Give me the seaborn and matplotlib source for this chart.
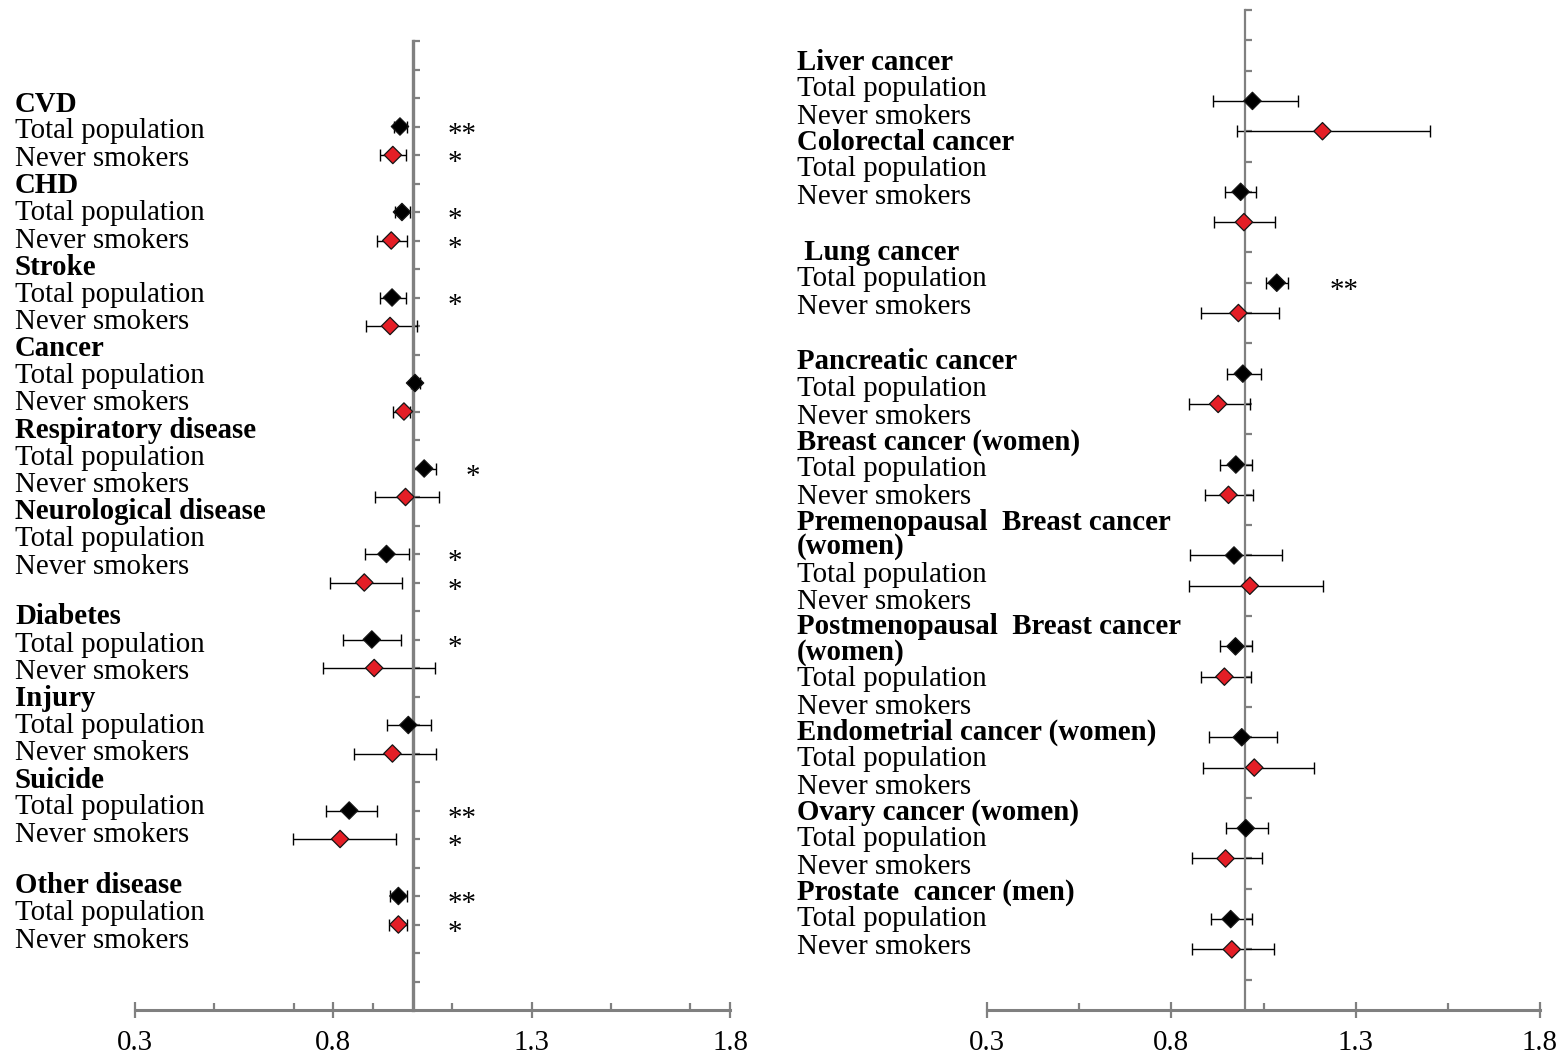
import matplotlib
matplotlib.use("Agg")
import matplotlib.pyplot as plt
import seaborn as sns
import pandas as pd

# ====================================
# data (hazard ratios)
# ====================================
LEFT_CATS = ["CVD", "CHD", "Stroke", "Cancer", "Respiratory disease",
             "Neurological disease", "Diabetes", "Injury", "Suicide",
             "Other disease"]
LEFT_TOTAL = [0.968, 0.973, 0.948, 1.006, 1.029, 0.934, 0.897, 0.989, 0.840, 0.964]
LEFT_TOTAL_LO = [0.953, 0.955, 0.918, 0.995, 1.001, 0.880, 0.825, 0.936, 0.781, 0.943]
LEFT_TOTAL_HI = [0.986, 0.993, 0.983, 1.018, 1.059, 0.991, 0.971, 1.046, 0.910, 0.986]
LEFT_NEVER = [0.950, 0.946, 0.943, 0.978, 0.982, 0.878, 0.903, 0.949, 0.817, 0.964]
LEFT_NEVER_LO = [0.918, 0.910, 0.882, 0.951, 0.905, 0.792, 0.773, 0.852, 0.699, 0.941]
LEFT_NEVER_HI = [0.983, 0.986, 1.011, 0.993, 1.066, 0.973, 1.056, 1.059, 0.958, 0.986]
LEFT_STARS_TOTAL = ["**", "*", "*", "", "*", "*", "*", "", "**", "**"]
LEFT_STARS_NEVER = ["*", "*", "", "", "", "*", "", "", "*", "*"]

RIGHT_CATS = ["Liver cancer", "Colorectal cancer", " Lung cancer",
              "Pancreatic cancer", "Breast cancer (women)",
              "Premenopausal  Breast cancer\n(women)",
              "Postmenopausal  Breast cancer\n(women)",
              "Endometrial cancer (women)", "Ovary cancer (women)",
              "Prostate  cancer (men)"]
RIGHT_TOTAL = [1.020, 0.988, 1.086, 0.994, 0.975, 0.970, 0.974, 0.991, 1.002, 0.961]
RIGHT_TOTAL_LO = [0.912, 0.946, 1.056, 0.950, 0.932, 0.851, 0.932, 0.903, 0.947, 0.907]
RIGHT_TOTAL_HI = [1.143, 1.030, 1.116, 1.042, 1.018, 1.099, 1.018, 1.087, 1.063, 1.020]
RIGHT_NEVER = [1.210, 0.997, 0.982, 0.927, 0.955, 1.013, 0.944, 1.025, 0.947, 0.964]
RIGHT_NEVER_LO = [0.977, 0.917, 0.880, 0.848, 0.891, 0.848, 0.880, 0.885, 0.855, 0.855]
RIGHT_NEVER_HI = [1.502, 1.081, 1.093, 1.013, 1.021, 1.212, 1.015, 1.188, 1.045, 1.078]
RIGHT_STARS_TOTAL = ["", "", "**", "", "", "", "", "", "", ""]
RIGHT_STARS_NEVER = ["", "", "", "", "", "", "", "", "", ""]

GROUPS = ["Total population", "Never smokers"]
X_MAJOR = [0.3, 0.8, 1.3, 1.8]
X_LABELS = ["0.3", "0.8", "1.3", "1.8"]

# ====================================
# style
# ====================================
W, H = 1564, 1058
RED = "#E41E26"
GREY = "#808080"
PALETTE = {"Total population": "black", "Never smokers": RED}
FS = 20.8

sns.set_style("white")
plt.rcParams["font.family"] = ["Liberation Serif", "DejaVu Serif"]
plt.rcParams["font.size"] = FS
plt.rcParams["text.color"] = "black"
plt.rcParams["xtick.labelcolor"] = "black"


def make_frame(total, t_lo, t_hi, never, n_lo, n_hi, s_total, s_never):
    rows = []
    for k in range(len(total)):
        rows.append(dict(row=3 * k + 3, group=GROUPS[0], hr=total[k],
                         lo=t_lo[k], hi=t_hi[k], star=s_total[k]))
        rows.append(dict(row=3 * k + 4, group=GROUPS[1], hr=never[k],
                         lo=n_lo[k], hi=n_hi[k], star=s_never[k]))
    return pd.DataFrame(rows)


def draw_panel(ax, df, ymax, minor_ticks, vline_width, star_x):
    ax.errorbar(
        df["hr"], df["row"],
        xerr=[df["hr"] - df["lo"], df["hi"] - df["hr"]],
        fmt="none", ecolor="black", elinewidth=1.0,
        capsize=4, capthick=1.0, zorder=2
    )
    sns.scatterplot(
        data=df, x="hr", y="row", hue="group", palette=PALETTE,
        marker="D", s=78, edgecolor="#151515", linewidth=0.9,
        legend=False, zorder=3, ax=ax
    )

    ax.set_xlim(0.3, 1.8)
    ax.set_ylim(ymax, 0)
    ax.set_xlabel("")
    ax.set_ylabel("")

    ax.set_xticks(X_MAJOR)
    ax.set_xticklabels(X_LABELS)
    ax.set_xticks(minor_ticks, minor=True)
    ax.set_yticks(range(0, ymax))
    ax.set_yticklabels([])

    # reference line at HR = 1 doubles as the y axis
    ax.spines["left"].set_position(("data", 1.0))
    ax.spines["left"].set_color(GREY)
    ax.spines["left"].set_linewidth(vline_width)
    ax.spines["bottom"].set_color(GREY)
    ax.spines["bottom"].set_linewidth(2.2)
    ax.spines["top"].set_visible(False)
    ax.spines["right"].set_visible(False)

    ax.tick_params(axis="y", direction="in", length=5, width=1.6,
                   color=GREY, left=True)
    ax.tick_params(axis="x", which="major", direction="inout", length=11,
                   width=1.6, color=GREY, pad=9, labelsize=FS,
                   labelcolor="black", bottom=True)
    ax.tick_params(axis="x", which="minor", direction="in", length=5,
                   width=1.6, color=GREY, bottom=True)

    for _, r in df.iterrows():
        if r["star"]:
            x = max(star_x, r["hi"] + 0.075)
            ax.annotate(r["star"], (x, r["row"]), xytext=(0, -6),
                        textcoords="offset points", ha="left",
                        va="center", fontsize=FS, color="black")


def draw_labels(fig, cats, gap_before, x_px, y_px, step, head_step,
                cont_step, gap_step):
    # row labels are a free text column, like the original text box
    y = y_px - head_step
    for cat in cats:
        if cat in gap_before:
            y += gap_step
        for j, part in enumerate(cat.split("\n")):
            y += head_step if j == 0 else cont_step
            fig.text(x_px / W, 1 - y / H, part, fontsize=FS,
                     fontweight="bold", va="center", ha="left",
                     color="black")
        for g in GROUPS:
            y += step
            fig.text(x_px / W, 1 - y / H, g, fontsize=FS,
                     va="center", ha="left", color="black")


fig = plt.figure(figsize=(W / 100, H / 100), dpi=100)
ax_left = fig.add_axes([135 / W, 1 - 1010 / H, 595 / W, 969 / H])
ax_right = fig.add_axes([987 / W, 1 - 1010 / H, 553 / W, 1000 / H])

left_df = make_frame(LEFT_TOTAL, LEFT_TOTAL_LO, LEFT_TOTAL_HI,
                     LEFT_NEVER, LEFT_NEVER_LO, LEFT_NEVER_HI,
                     LEFT_STARS_TOTAL, LEFT_STARS_NEVER)
right_df = make_frame(RIGHT_TOTAL, RIGHT_TOTAL_LO, RIGHT_TOTAL_HI,
                      RIGHT_NEVER, RIGHT_NEVER_LO, RIGHT_NEVER_HI,
                      RIGHT_STARS_TOTAL, RIGHT_STARS_NEVER)

draw_panel(ax_left, left_df, 34, [0.5, 0.7, 0.9, 1.1, 1.5, 1.7], 2.4, 1.087)
draw_panel(ax_right, right_df, 33, [0.55, 1.05, 1.55], 1.6, 1.23)

draw_labels(fig, LEFT_CATS, {"Diabetes", "Other disease"}, 15, 104,
            27.5, 26.5, 25.0, 24.0)
draw_labels(fig, RIGHT_CATS, {" Lung cancer", "Pancreatic cancer"}, 797, 62,
            27.5, 25.0, 25.0, 30.0)

fig.savefig("out.png", dpi=100)
